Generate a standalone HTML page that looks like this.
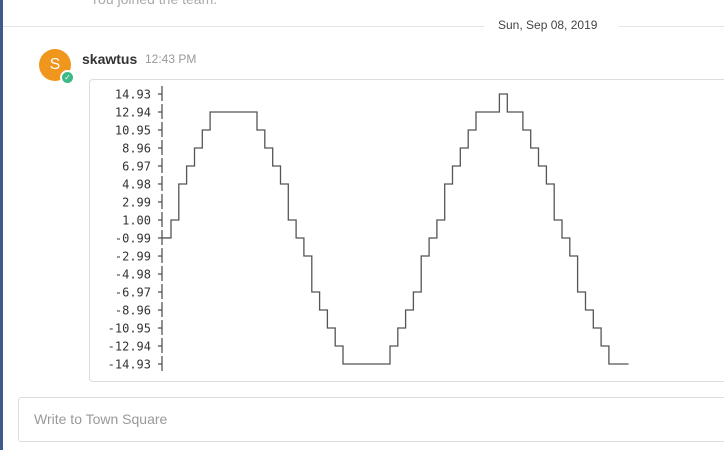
<!DOCTYPE html>
<html><head><meta charset="utf-8"><style>
body{margin:0;width:724px;height:450px;overflow:hidden;background:#fff;font-family:"Liberation Sans",sans-serif;position:relative}
.abs{position:absolute}
</style></head><body>
<div class="abs" style="left:0;top:0;width:3px;height:450px;background:#3f5b8c"></div>
<div class="abs" style="left:90px;top:-9px;font-size:14px;color:#aaa">You joined the team.</div>
<div class="abs" style="left:3px;top:26px;width:481px;height:1px;background:#e4e4e4"></div>
<div class="abs" style="left:619px;top:26px;width:105px;height:1px;background:#e4e4e4"></div>
<div class="abs" style="left:498px;top:18px;font-size:12px;color:#444">Sun, Sep 08, 2019</div>
<div class="abs" style="left:39px;top:49px;width:32px;height:32px;border-radius:50%;background:#f0961c;color:#fff;font-size:16px;line-height:32px;text-align:center">S</div>
<div class="abs" style="left:60px;top:70px;width:11px;height:11px;border-radius:50%;background:#3db887;border:2px solid #fff;color:#fff;font-size:8px;line-height:11px;text-align:center">✓</div>
<div class="abs" style="left:82px;top:51px;font-size:14px;font-weight:bold;color:#333">skawtus</div>
<div class="abs" style="left:145px;top:52px;font-size:12px;color:#999">12:43 PM</div>
<div class="abs" style="left:89px;top:79px;width:650px;height:301px;border:1px solid #ddd;border-radius:4px;background:#fff"></div>
<svg class="abs" style="left:0;top:0" width="724" height="450">
<g id="axis"></g>
<path id="line" fill="none" stroke="#555" stroke-width="1.3"/>
</svg>
<div class="abs" style="left:18px;top:397px;width:720px;height:43px;border:1px solid #ddd;border-radius:3px"></div>
<div class="abs" style="left:34px;top:411px;font-size:14px;color:#999">Write to Town Square</div>
<script>
const tickLabels=["14.93","12.94","10.95","8.96","6.97","4.98","2.99","1.00","-0.99","-2.99","-4.98","-6.97","-8.96","-10.95","-12.94","-14.93"];
const tickValues=[14.93,12.94,10.95,8.96,6.97,4.98,2.99,1.00,-0.99,-2.99,-4.98,-6.97,-8.96,-10.95,-12.94,-14.93];
const seriesValues=[-0.99,1.00,4.98,6.97,8.96,10.95,12.94,12.94,12.94,12.94,12.94,12.94,10.95,8.96,6.97,4.98,1.00,-0.99,-2.99,-6.97,-8.96,-10.95,-12.94,-14.93,-14.93,-14.93,-14.93,-14.93,-14.93,-12.94,-10.95,-8.96,-6.97,-2.99,-0.99,1.00,4.98,6.97,8.96,10.95,12.94,12.94,12.94,14.93,12.94,12.94,10.95,8.96,6.97,4.98,1.00,-0.99,-2.99,-6.97,-8.96,-10.95,-12.94,-14.93,-14.93];
const NS="http://www.w3.org/2000/svg";
const yTop=94,rowH=18,vMax=14.93,vMin=-14.93;
function y(v){return yTop+(vMax-v)/(vMax-vMin)*(rowH*(tickValues.length-1));}
const axisX=162,cw=7.82,firstVx=171;
function xB(k){return firstVx+cw*k;}
const ax=document.getElementById('axis');
const al=document.createElementNS(NS,'line');


al.setAttribute('x1',axisX);al.setAttribute('x2',axisX);al.setAttribute('y1',86);al.setAttribute('y2',372);
al.setAttribute('stroke','#555');al.setAttribute('stroke-width','1.3');al.setAttribute('stroke-dasharray','15 3');
ax.appendChild(al);
tickValues.forEach((v,i)=>{
 const t=document.createElementNS(NS,'text');
 
 
 t.setAttribute('x',151);t.setAttribute('y',y(v)+4.5);t.setAttribute('text-anchor','end');
 t.setAttribute('font-family','DejaVu Sans Mono, Liberation Mono, monospace');t.setAttribute('font-size','12');t.setAttribute('fill','#333');
 t.textContent=tickLabels[i];ax.appendChild(t);
 const m=document.createElementNS(NS,'line');
 
 
 m.setAttribute('x1',158);m.setAttribute('x2',axisX);m.setAttribute('y1',y(v));m.setAttribute('y2',y(v));
 m.setAttribute('stroke','#555');m.setAttribute('stroke-width','1.3');ax.appendChild(m);
});
let d='M'+axisX+' '+y(seriesValues[0]);
for(let i=1;i<seriesValues.length;i++){
 const xb=xB(i-1);
 d+=' H'+xb.toFixed(1)+' V'+y(seriesValues[i]).toFixed(1);
}
d+=' H'+(xB(seriesValues.length-1)+4).toFixed(1);
document.getElementById('line').setAttribute('d',d);
</script>
</body></html>
